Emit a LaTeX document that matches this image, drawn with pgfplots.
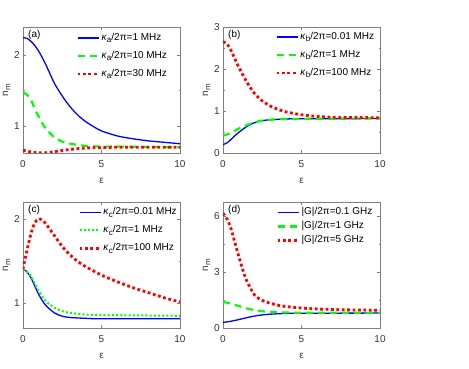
\documentclass[border=0pt]{standalone}
\usepackage{fontspec}
\setmainfont{Liberation Sans}
\usepackage{pgfplots}
\pgfplotsset{compat=1.18}

\newcommand{\sub}[1]{\raisebox{-0.45ex}{\fontsize{8}{8}\selectfont #1}}
\definecolor{mblue}{rgb}{0,0,1}
\definecolor{mgreen}{rgb}{0,1,0}
\definecolor{mred}{rgb}{1,0,0}

\pgfplotsset{
  panel/.style={
    width=157pt, height=126pt, scale only axis,
    xmin=0, xmax=10, xtick={0,5,10},
    tick align=inside, major tick length=3pt, minor tick length=1.5pt,
    minor y tick num=1,
    axis line style={black!50, line width=0.5pt},
    every tick/.style={black!50, line width=0.5pt},
    tick label style={font=\fontsize{10}{12}\selectfont, text=black!80},
    /pgf/number format/assume math mode=true,
    xticklabel style={anchor=north, inner sep=0pt, yshift=-7.5pt},
    yticklabel style={anchor=east, inner sep=0pt, xshift=-3pt},
    xlabel={ε}, ylabel={n\sub{m}},
    xlabel style={at={(axis description cs:0.5,-0.22)}, anchor=center, inner sep=0pt, font=\fontsize{10}{12}\selectfont, text=black!80},
    ylabel style={at={(axis description cs:-0.105,0.5)}, anchor=center, inner sep=0pt, font=\fontsize{10}{12}\selectfont, text=black!80},
    legend cell align=left,
    legend image code/.code={\draw[##1] (0pt,0pt) -- (21pt,0pt);},
    legend style={draw=none, fill=none, inner sep=0pt, anchor=north west,
      row sep=8.5pt,
      /tikz/every odd column/.style={column sep=1.5pt},
      nodes={inner sep=0pt, text height=7pt, text depth=2.5pt, font=\fontsize{10}{12}\selectfont, text=black}},
  },
  sblue/.style={mblue, line width=1.3pt, smooth},
  sgreen/.style={mgreen, line width=2.2pt, dash pattern=on 7pt off 5pt, smooth},
  sgdot/.style={mgreen, line width=2pt, dash pattern=on 2pt off 2.2pt, smooth},
  sred/.style={mred, line width=2.8pt, dash pattern=on 2.8pt off 2.6pt, smooth},
}

\begin{document}
\begin{tikzpicture}
\path[use as bounding box] (0,0) rectangle (469pt,369pt);

% (a)
\begin{axis}[panel, at={(23pt,216pt)}, anchor=south west,
  ymin=0.62, ymax=2.39, ytick={1,2},
  legend style={at={(axis description cs:0.338,0.952)}}]
\addplot[sblue] coordinates {(0,2.24)(0.25,2.23)(0.5,2.19)(0.75,2.13)(1,2.05)(1.25,1.95)(1.5,1.84)(2,1.6)(2.5,1.42)(3,1.27)(3.5,1.15)(4,1.06)(4.5,0.99)(5,0.93)(6,0.86)(7,0.82)(8,0.79)(9,0.77)(10,0.75)};
\addlegendentry{\textit{κ}\sub{a}/2π=1 MHz}
\addplot[sgreen] coordinates {(0,1.47)(0.25,1.44)(0.5,1.37)(0.75,1.24)(1,1.13)(1.25,1.03)(1.5,0.95)(2,0.84)(2.5,0.78)(3,0.75)(4,0.72)(5,0.71)(6,0.71)(8,0.705)(10,0.70)};
\addlegendentry{\textit{κ}\sub{a}/2π=10 MHz}
\addplot[sred] coordinates {(0,0.66)(0.5,0.635)(1,0.622)(1.5,0.625)(2,0.64)(3,0.67)(4,0.69)(5,0.695)(6,0.70)(8,0.70)(10,0.70)};
\addlegendentry{\textit{κ}\sub{a}/2π=30 MHz}
\node[anchor=north west, inner sep=0pt, font=\fontsize{10}{12}\selectfont] at (axis description cs:0.032,0.976) {(a)};
\end{axis}

% (b)
\begin{axis}[panel, at={(223pt,216pt)}, anchor=south west,
  ymin=0, ymax=3, ytick={0,1,2,3},
  legend style={at={(axis description cs:0.331,0.96)}}]
\addplot[sblue] coordinates {(0,0.2)(0.25,0.24)(0.5,0.32)(0.75,0.41)(1,0.49)(1.25,0.56)(1.5,0.63)(2,0.72)(2.5,0.77)(3,0.79)(4,0.81)(5,0.815)(10,0.82)};
\addlegendentry{\textit{κ}\sub{b}/2π=0.01 MHz}
\addplot[sgreen] coordinates {(0,0.42)(0.25,0.44)(0.5,0.48)(0.75,0.53)(1,0.58)(1.5,0.66)(2,0.73)(2.5,0.77)(3,0.79)(4,0.81)(10,0.82)};
\addlegendentry{\textit{κ}\sub{b}/2π=1 MHz}
\addplot[sred] coordinates {(0,2.65)(0.25,2.6)(0.5,2.45)(0.75,2.25)(1,2.05)(1.5,1.7)(2,1.42)(2.5,1.24)(3,1.12)(3.5,1.04)(4,0.98)(5,0.91)(6,0.87)(7,0.85)(8,0.845)(10,0.84)};
\addlegendentry{\textit{κ}\sub{b}/2π=100 MHz}
\node[anchor=north west, inner sep=0pt, font=\fontsize{10}{12}\selectfont] at (axis description cs:0.032,0.976) {(b)};
\end{axis}

% (c)
\begin{axis}[panel, at={(23pt,41pt)}, anchor=south west,
  ymin=0.7, ymax=2.2, ytick={1,2},
  legend style={at={(axis description cs:0.35,0.956)}}]
\addplot[sblue] coordinates {(0,1.4)(0.25,1.37)(0.5,1.3)(0.75,1.2)(1,1.1)(1.25,1.02)(1.5,0.96)(2,0.88)(2.5,0.84)(3,0.825)(4,0.815)(5,0.81)(10,0.81)};
\addlegendentry{\textit{κ}\sub{c}/2π=0.01 MHz}
\addplot[sgdot] coordinates {(0,1.4)(0.25,1.37)(0.5,1.32)(0.75,1.23)(1,1.14)(1.25,1.07)(1.5,1.01)(2,0.94)(2.5,0.9)(3,0.88)(4,0.86)(5,0.855)(10,0.845)};
\addlegendentry{\textit{κ}\sub{c}/2π=1 MHz}
\addplot[sred] coordinates {(0,1.4)(0.1,1.5)(0.25,1.62)(0.5,1.82)(0.75,1.95)(1,2.0)(1.25,1.98)(1.5,1.93)(2,1.8)(2.5,1.67)(3,1.57)(3.5,1.49)(4,1.43)(5,1.33)(6,1.25)(7,1.18)(8,1.12)(9,1.06)(10,1.01)};
\addlegendentry{\textit{κ}\sub{c}/2π=100 MHz}
\node[anchor=north west, inner sep=0pt, font=\fontsize{10}{12}\selectfont] at (axis description cs:0.032,0.976) {(c)};
\end{axis}

% (d)
\begin{axis}[panel, at={(223pt,41pt)}, anchor=south west,
  ymin=0, ymax=6.75, ytick={0,3,6},
  legend style={at={(axis description cs:0.338,0.956)}, row sep=4.5pt}]
\addplot[sblue] coordinates {(0,0.3)(0.5,0.36)(1,0.45)(1.5,0.55)(2,0.64)(2.5,0.7)(3,0.74)(4,0.78)(5,0.79)(10,0.8)};
\addlegendentry{|G|/2π=0.1 GHz}
\addplot[sgreen] coordinates {(0,1.38)(0.25,1.36)(0.5,1.3)(1,1.18)(1.5,1.05)(2,0.96)(2.5,0.9)(3,0.86)(4,0.83)(5,0.82)(10,0.81)};
\addlegendentry{|G|/2π=1 GHz}
\addplot[sred] coordinates {(0,6.15)(0.25,5.85)(0.5,5.35)(0.75,4.6)(1,3.85)(1.25,3.15)(1.5,2.55)(2,1.78)(2.5,1.48)(3,1.33)(3.5,1.22)(4,1.15)(5,1.07)(6,1.02)(7,0.99)(8,0.97)(10,0.95)};
\addlegendentry{|G|/2π=5 GHz}
\node[anchor=north west, inner sep=0pt, font=\fontsize{10}{12}\selectfont] at (axis description cs:0.032,0.976) {(d)};
\end{axis}
\end{tikzpicture}
\end{document}
